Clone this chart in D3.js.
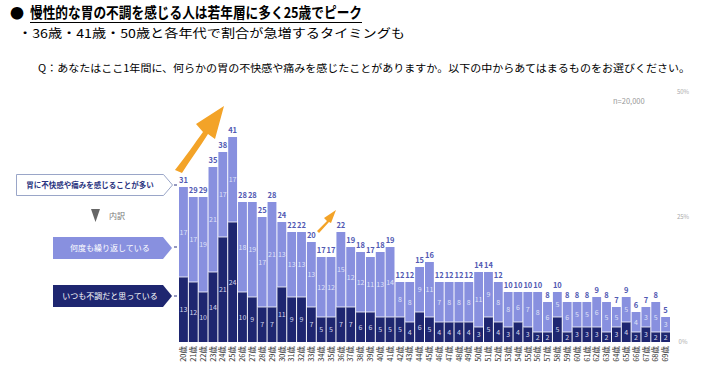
<!DOCTYPE html>
<html>
<head>
<meta charset="utf-8">
<script src="https://cdn.jsdelivr.net/npm/d3@7"></script>
<style>
  body { margin: 0; background: #fff; }
  svg { display: block; font-family: "Noto Sans CJK JP", "Noto Sans", sans-serif; }
</style>
</head>
<body>
<div class="chart"></div>
<script>
// ages 20-69
const ages = d3.range(20, 70).map(a => a + '歳');
// 胃に不快感や痛みを感じることが多い (total %)
const totals = [31,29,29,35,38,41,28,28,25,28,24,22,22,20,17,17,22,19,18,17,18,19,12,12,15,16,12,12,12,12,14,14,12,10,10,10,10,8,10,8,8,8,9,8,7,9,6,7,8,5];
// 何度も繰り返している
const repeatVals = [17,17,19,21,17,17,18,19,17,21,13,13,13,13,12,12,15,12,12,11,13,14,8,8,9,11,7,8,8,8,11,9,8,8,6,7,8,6,5,6,5,5,6,5,5,5,4,3,5,3];
// いつも不調だと思っている
const alwaysVals = [13,12,10,14,21,24,10,9,7,7,11,9,9,7,5,5,7,7,6,6,5,5,5,4,6,5,4,4,4,4,3,5,4,3,4,3,2,2,5,2,3,3,3,2,3,4,2,3,2,2];
const pctTicks = [0, 25, 50];

const width = 718, height = 377;
const lightColor = '#8890df';
const darkColor = '#1e2670';

const svg = d3.select('.chart')
    .append('svg')
    .attr('width', width)
    .attr('height', height);

// titles
svg.append('text')
    .attr('x', 10).attr('y', 18)
    .attr('font-size', 14).attr('font-weight', 'bold')
    .text('●');
svg.append('text')
    .attr('x', 30).attr('y', 18)
    .attr('font-size', 15).attr('font-weight', 'bold')
    .attr('textLength', 332).attr('lengthAdjust', 'spacingAndGlyphs')
    .text('慢性的な胃の不調を感じる人は若年層に多く25歳でピーク');
svg.append('line')
    .attr('x1', 30).attr('x2', 362).attr('y1', 22.5).attr('y2', 22.5)
    .attr('stroke', '#000').attr('stroke-width', 1.2);
svg.append('text')
    .attr('x', 18).attr('y', 38)
    .attr('font-size', 12)
    .attr('textLength', 387).attr('lengthAdjust', 'spacingAndGlyphs')
    .text('・36歳・41歳・50歳と各年代で割合が急増するタイミングも');
svg.append('text')
    .attr('x', 38).attr('y', 72)
    .attr('font-size', 10.5)
    .attr('textLength', 652).attr('lengthAdjust', 'spacingAndGlyphs')
    .text('Q：あなたはここ1年間に、何らかの胃の不快感や痛みを感じたことがありますか。以下の中からあてはまるものをお選びください。');

// scales
const x = d3.scaleBand()
    .domain(ages)
    .range([179, 670])
    .paddingInner(0.1);
const y = d3.scaleLinear()
    .domain([0, 50])
    .range([342, 92]);

const rows = ages.map((a, i) => ({
    age: a, total: totals[i], rep: repeatVals[i], always: alwaysVals[i]
}));

// light (top) segments
svg.selectAll('rect.light')
    .data(rows)
    .enter()
    .append('rect')
    .attr('class', 'light')
    .attr('x', d => x(d.age))
    .attr('y', d => y(d.total))
    .attr('width', x.bandwidth())
    .attr('height', d => y(d.always) - y(d.total))
    .attr('fill', lightColor);

// dark (bottom) segments
svg.selectAll('rect.dark')
    .data(rows)
    .enter()
    .append('rect')
    .attr('class', 'dark')
    .attr('x', d => x(d.age))
    .attr('y', d => y(d.always))
    .attr('width', x.bandwidth())
    .attr('height', d => y(0) - y(d.always))
    .attr('fill', darkColor);

// separator between segments
svg.selectAll('line.sep')
    .data(rows)
    .enter()
    .append('line')
    .attr('x1', d => x(d.age))
    .attr('x2', d => x(d.age) + x.bandwidth())
    .attr('y1', d => y(d.always))
    .attr('y2', d => y(d.always))
    .attr('stroke', '#fff')
    .attr('stroke-width', 0.8);

// total labels
svg.selectAll('text.total')
    .data(rows)
    .enter()
    .append('text')
    .text(d => d.total)
    .attr('x', d => x(d.age) + x.bandwidth() / 2)
    .attr('y', d => y(d.total) - 4)
    .attr('text-anchor', 'middle')
    .attr('font-size', 7.5)
    .attr('font-weight', 'bold')
    .attr('fill', '#5159b3');

// inner labels
svg.selectAll('text.rep')
    .data(rows)
    .enter()
    .append('text')
    .text(d => d.rep)
    .attr('x', d => x(d.age) + x.bandwidth() / 2)
    .attr('y', d => (y(d.total) + y(d.always)) / 2 + 2.5)
    .attr('text-anchor', 'middle')
    .attr('font-size', 7)
    .attr('fill', '#dfe1f8');

svg.selectAll('text.always')
    .data(rows)
    .enter()
    .append('text')
    .text(d => d.always)
    .attr('x', d => x(d.age) + x.bandwidth() / 2)
    .attr('y', d => (y(0) + y(d.always)) / 2 + 2.5)
    .attr('text-anchor', 'middle')
    .attr('font-size', 7)
    .attr('fill', '#d4d6ec');

// age labels (rotated)
svg.selectAll('text.age')
    .data(rows)
    .enter()
    .append('text')
    .text(d => d.age)
    .attr('transform', d => `translate(${x(d.age) + x.bandwidth() / 2 + 2.7},346) rotate(-90)`)
    .attr('text-anchor', 'end')
    .attr('font-size', 7.5)
    .attr('fill', '#333');

// right percent labels
svg.selectAll('text.pct')
    .data(pctTicks)
    .enter()
    .append('text')
    .text(d => d + '%')
    .attr('x', 683)
    .attr('y', d => y(d) + 2)
    .attr('text-anchor', 'middle')
    .attr('font-size', 6)
    .attr('fill', '#aaa');

svg.append('text')
    .attr('x', 613).attr('y', 104)
    .attr('font-size', 7.5)
    .attr('fill', '#999')
    .text('n=20,000');

// left legend boxes
function arrowBox(x0, y0, w, h, tip) {
    return `M${x0},${y0}H${x0 + w}L${x0 + w + tip},${y0 + h / 2}L${x0 + w},${y0 + h}H${x0}Z`;
}
svg.append('path')
    .attr('d', arrowBox(16.5, 174.5, 147, 21, 9))
    .attr('fill', '#fff')
    .attr('stroke', '#9aa6c8')
    .attr('stroke-width', 1);
svg.append('text')
    .attr('x', 90).attr('y', 188)
    .attr('text-anchor', 'middle')
    .attr('font-size', 7.5).attr('font-weight', 'bold')
    .attr('fill', '#2a3380')
    .text('胃に不快感や痛みを感じることが多い');

svg.append('path')
    .attr('d', 'M91,209L100,209L95.5,222Z')
    .attr('fill', '#666');
svg.append('text')
    .attr('x', 109).attr('y', 219)
    .attr('font-size', 8)
    .attr('fill', '#777')
    .text('内訳');

svg.append('path')
    .attr('d', arrowBox(53, 237, 110, 22, 9))
    .attr('fill', lightColor);
svg.append('text')
    .attr('x', 110).attr('y', 251)
    .attr('text-anchor', 'middle')
    .attr('font-size', 8)
    .attr('fill', '#fff')
    .text('何度も繰り返している');

svg.append('path')
    .attr('d', arrowBox(53, 285, 110, 22, 9))
    .attr('fill', darkColor);
svg.append('text')
    .attr('x', 110).attr('y', 299)
    .attr('text-anchor', 'middle')
    .attr('font-size', 8)
    .attr('fill', '#fff')
    .text('いつも不調だと思っている');

// small leader dots next to first bar
[185, 247, 296].forEach(yy => {
    svg.append('line')
        .attr('x1', 174).attr('x2', 177)
        .attr('y1', yy).attr('y2', yy)
        .attr('stroke', '#2a3380')
        .attr('stroke-width', 1);
});

// orange arrows
svg.append('path')
    .attr('d', 'M175,170 C186,156 195,143 203,132 L196,124 L224,106 L215,139 L208,134 C200,147 190,160 182,173 Z')
    .attr('fill', '#f3a328');
svg.append('path')
    .attr('d', 'M317,231 L327,221 L324,218 L336,210 L331,223 L329,222 L319,233 Z')
    .attr('fill', '#f3a328');
</script>
</body>
</html>
